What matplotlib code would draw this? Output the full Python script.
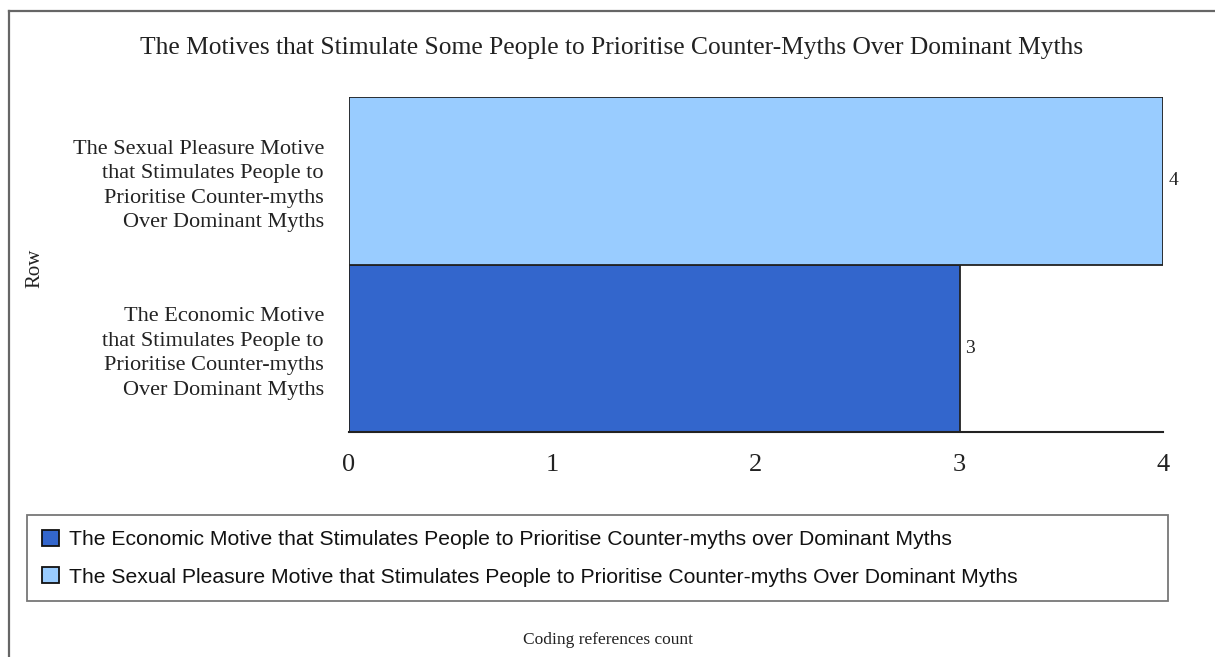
import matplotlib.pyplot as plt
from matplotlib.patches import Patch
from matplotlib.lines import Line2D

rows = ['The Economic Motive\nthat Stimulates People to\nPrioritise Counter-myths\nOver Dominant Myths',
        'The Sexual Pleasure Motive\nthat Stimulates People to\nPrioritise Counter-myths\nOver Dominant Myths']
counts = [3, 4]
colors = ['#3366cc', '#99ccff']
legend_labels = ['The Economic Motive that Stimulates People to Prioritise Counter-myths over Dominant Myths',
                 'The Sexual Pleasure Motive that Stimulates People to Prioritise Counter-myths Over Dominant Myths']
xticks = [0, 1, 2, 3, 4]

W, H = 1215, 657
serif = 'Liberation Serif'
sans = 'Liberation Sans'

fig = plt.figure(figsize=(W / 100, H / 100), dpi=100)
ax = fig.add_axes([349 / W, 1 - 432 / H, (1163 - 349) / W, (432 - 97) / H])

bars = ax.barh(range(len(rows)), counts, height=1.0, color=colors,
               edgecolor='#222222', linewidth=1.3)
ax.set_ylim(-0.5, len(rows) - 0.5)
ax.set_xlim(0, 4)
ax.set_yticks(range(len(rows)))
ax.set_yticklabels(rows, fontfamily=serif, fontsize=16, color='#222222',
                   linespacing=1.4)
ax.set_xticks(xticks)
ax.set_xticklabels([str(t) for t in xticks], fontfamily=serif, fontsize=19,
                   color='#222222')
ax.tick_params(axis='both', length=0)
ax.tick_params(axis='y', pad=18)
ax.tick_params(axis='x', pad=16)
for s in ['top', 'right', 'left']:
    ax.spines[s].set_visible(False)
ax.spines['bottom'].set_color('#222222')
ax.spines['bottom'].set_linewidth(1.5)

ax.bar_label(bars, labels=[str(c) for c in counts], padding=4,
             fontfamily=serif, fontsize=14, color='#222222')

fig.text(612 / W, 1 - 48 / H,
         'The Motives that Stimulate Some People to Prioritise Counter-Myths Over Dominant Myths',
         ha='center', va='center', fontfamily=serif, fontsize=18.4, color='#222222')
fig.text(35 / W, 1 - 268 / H, 'Row', rotation=90, ha='center', va='center',
         fontfamily=serif, fontsize=15, color='#222222')
fig.text(608 / W, 1 - 640 / H, 'Coding references count', ha='center',
         va='center', fontfamily=serif, fontsize=12.5, color='#222222')

# outer frame: only the left and top edges fall inside the image
fig.add_artist(Line2D([9 / W, 9 / W], [0, 1 - 11 / H], transform=fig.transFigure,
                      color='#666666', linewidth=1.6))
fig.add_artist(Line2D([9 / W, 1], [1 - 11 / H, 1 - 11 / H], transform=fig.transFigure,
                      color='#666666', linewidth=1.6))

handles = [Patch(facecolor=c, edgecolor='#111111', linewidth=1.3) for c in colors]
leg = fig.legend(handles, legend_labels, loc='upper left',
                 bbox_to_anchor=(27 / W, 1 - 515 / H, (1168 - 27) / W, 0),
                 mode='expand', borderaxespad=0, fancybox=False,
                 prop={'family': sans, 'size': 15.2},
                 handlelength=0.8, handleheight=0.8, handletextpad=0.5,
                 labelspacing=0.85, borderpad=0.7)
leg.get_frame().set_edgecolor('#555555')
leg.get_frame().set_linewidth(1.3)
for t in leg.get_texts():
    t.set_color('#111111')

fig.savefig('out.png', dpi=100)
